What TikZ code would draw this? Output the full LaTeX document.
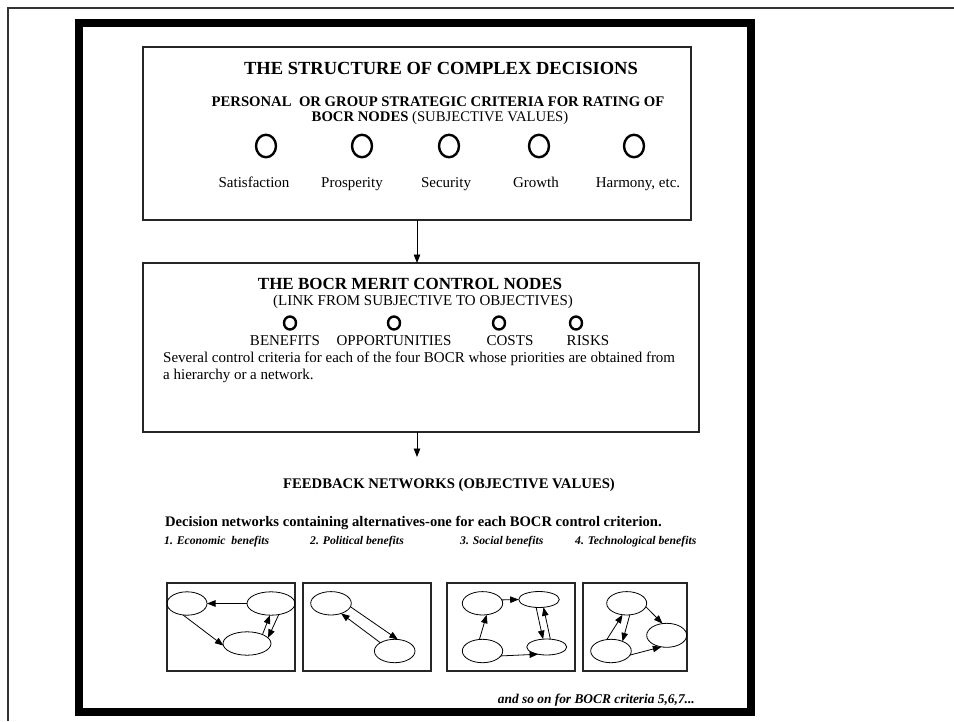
\documentclass[tikz,border=0pt]{standalone}
\usepackage{fontspec}
\setmainfont{Liberation Serif}
\usetikzlibrary{arrows.meta,shapes.geometric}
\begin{document}
\begin{tikzpicture}[x=1pt,y=-1pt,
  box/.style={draw=black!85, line width=1.3pt, inner sep=0pt, outer sep=0pt, anchor=north west},
  ring/.style={ellipse, draw=black, line width=2.4pt, inner sep=0pt, minimum width=20pt, minimum height=22.5pt},
  dot/.style={ellipse, draw=black, line width=2.4pt, inner sep=0pt, minimum width=12pt, minimum height=13pt},
  alt/.style={ellipse, draw=black, line width=0.8pt, inner sep=0pt, outer sep=0pt},
  link/.style={-{Triangle[length=8.5pt,width=6.5pt]}, line width=0.8pt},
  txt/.style={inner sep=0pt, font=\fontsize{15}{17}\selectfont},
  hd/.style={inner sep=0pt, font=\fontsize{14.7}{15}\selectfont\bfseries},
  item/.style={inner sep=0pt, anchor=base west, font=\fontsize{11.7}{13}\selectfont\bfseries\itshape}]
\useasboundingbox (0,0) rectangle (954,721);

% page rules and heavy frame
\draw[line width=2pt, black!80] (954,8) -- (8,8) -- (8,721);
\draw[line width=8pt] (79,23) rectangle (751,712);

% ---- strategic criteria ----
\node[box, minimum width=548pt, minimum height=173pt] (topbox) at (143,47) {};
\node[inner sep=0pt, anchor=base, font=\fontsize{18.5}{21}\selectfont\bfseries] (title) at (441,74) {THE STRUCTURE OF COMPLEX DECISIONS};
\node[hd, anchor=base] (crit1) at (438,106) {PERSONAL\ \ OR GROUP STRATEGIC CRITERIA FOR RATING OF};
\node[txt, anchor=base, font=\fontsize{14.7}{15}\selectfont] (crit2) at (440,121) {\textbf{BOCR NODES} (SUBJECTIVE VALUES)};

\node[ring] (v1) at (266,146) {};
\node[ring] (v2) at (362,146) {};
\node[ring] (v3) at (449,146) {};
\node[ring] (v4) at (539,146) {};
\node[ring] (v5) at (634,146) {};
\node[txt, anchor=base] (l1) at (254,187) {Satisfaction};
\node[txt, anchor=base] (l2) at (352,187) {Prosperity};
\node[txt, anchor=base] (l3) at (446,187) {Security};
\node[txt, anchor=base] (l4) at (536,187) {Growth};
\node[txt, anchor=base] (l5) at (638,187) {Harmony, etc.};

% ---- BOCR merit nodes ----
\node[box, minimum width=556pt, minimum height=169pt] (midbox) at (143,263) {};
\draw[link] (topbox.south) -- (topbox.south |- midbox.north);
\node[inner sep=0pt, anchor=base, font=\fontsize{17}{19}\selectfont\bfseries] (mtitle) at (410,289) {THE BOCR MERIT CONTROL NODES};
\node[txt, anchor=base] (mlink) at (423,305) {(LINK FROM SUBJECTIVE TO OBJECTIVES)};
\node[dot] (b) at (290,323) {};
\node[dot] (o) at (394,323) {};
\node[dot] (c) at (499,323) {};
\node[dot] (r) at (576,323) {};
\node[txt, anchor=base] (lb) at (285,345) {BENEFITS};
\node[txt, anchor=base] (lo) at (394,345) {OPPORTUNITIES};
\node[txt, anchor=base] (lc) at (510,345) {COSTS};
\node[txt, anchor=base] (lr) at (588,345) {RISKS};
\node[txt, anchor=base west] (sev1) at (163,362) {Several control criteria for each of the four BOCR whose priorities are obtained from};
\node[txt, anchor=base west] (sev2) at (163,379) {a hierarchy or a network.};

% ---- feedback networks ----
\coordinate (fbtip) at (417,457);
\draw[link] (topbox.south |- midbox.south) -- (fbtip);
\node[hd, anchor=base] (fb) at (449,488) {FEEDBACK NETWORKS (OBJECTIVE VALUES)};
\node[inner sep=0pt, anchor=base west, font=\fontsize{14.6}{16}\selectfont\bfseries] (dec) at (165,526) {Decision networks containing alternatives-one for each BOCR control criterion.};
\node[item] (i1) at (164,544) {1. Economic\ \ benefits};
\node[item] (i2) at (310,544) {2. Political benefits};
\node[item] (i3) at (460,544) {3. Social benefits};
\node[item] (i4) at (575,544) {4. Technological benefits};

% network 1
\node[box, line width=1.2pt, minimum width=128pt, minimum height=88pt] (n1) at (167,583) {};
\node[alt, minimum width=40pt, minimum height=23.4pt] (A) at (187,603.5) {};
\node[alt, minimum width=48pt, minimum height=23.4pt] (B) at (271,603.5) {};
\node[alt, minimum width=48pt, minimum height=23.4pt] (C) at (247,643.5) {};
\draw[link] (B.west) -- (A.east);
\draw[link] (A.251) -- (C.185);
\draw[link] (C.30) -- (B.265);
\draw[link] (B.305) -- (C.15);

% network 2
\node[box, line width=1.2pt, minimum width=128pt, minimum height=88pt] (n2) at (303,583) {};
\node[alt, minimum width=40.6pt, minimum height=23.4pt] (D) at (331,603.3) {};
\node[alt, minimum width=40.6pt, minimum height=23.4pt] (E) at (394.7,651) {};
\draw[link] (D.350) -- (E.75);
\draw[link] (E.150) -- (D.315);

% network 3
\node[box, line width=1.2pt, minimum width=128pt, minimum height=88pt] (n3) at (447,583) {};
\node[alt, minimum width=40.4pt, minimum height=23.4pt] (F) at (482.5,603.3) {};
\node[alt, minimum width=40.6pt, minimum height=16pt] (G) at (539,599.5) {};
\node[alt, minimum width=40.4pt, minimum height=23.4pt] (H) at (482.5,651) {};
\node[alt, minimum width=40pt, minimum height=16pt] (I) at (546.7,647) {};
\draw[link] (F.10) -- (G.west);
\draw[link] (H.105) -- (F.290);
\draw[link] (H.345) -- (I.220);
\draw[link] (G.250) -- (I.115);
\draw[link] (I.65) -- (G.300);

% network 4
\node[box, line width=1.2pt, minimum width=104pt, minimum height=88pt] (n4) at (583,583) {};
\node[alt, minimum width=40pt, minimum height=23.4pt] (J) at (626.7,603.3) {};
\node[alt, minimum width=40pt, minimum height=24pt] (K) at (666.7,635.3) {};
\node[alt, minimum width=40.6pt, minimum height=23.4pt] (L) at (611,651) {};
\draw[link] (J.350) -- (K.110);
\draw[link] (L.110) -- (J.250);
\draw[link] (J.285) -- (L.40);
\draw[link] (L.348) -- (K.245);

\node[inner sep=0pt, anchor=base east, font=\fontsize{13.4}{15}\selectfont\bfseries\itshape] (more) at (695,703) {and so on for BOCR criteria 5,6,7...};
\end{tikzpicture}
\end{document}
